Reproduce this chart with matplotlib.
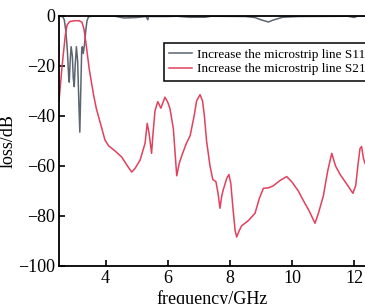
import matplotlib
matplotlib.use("Agg")
import matplotlib.pyplot as plt

# S21 of the widened microstrip line (frequency in GHz, loss in dB)
s21_freq = [2.50, 2.60, 2.70, 2.76, 2.85, 3.00, 3.15, 3.24, 3.30, 3.36, 3.41, 3.47, 3.55, 3.62,
            3.70, 3.80, 3.90, 3.98, 4.10, 4.30, 4.52, 4.70, 4.84, 4.95, 5.11, 5.27, 5.34, 5.40,
            5.48, 5.52, 5.59, 5.68, 5.78, 5.91, 6.00, 6.07, 6.18, 6.29, 6.37, 6.45, 6.60, 6.72,
            6.85, 6.93, 7.04, 7.12, 7.18, 7.25, 7.36, 7.45, 7.55, 7.62, 7.68, 7.74, 7.79, 7.90,
            7.97, 8.03, 8.10, 8.17, 8.22, 8.30, 8.38, 8.59, 8.81, 8.95, 9.08, 9.25, 9.40, 9.60,
            9.83, 10.00, 10.20, 10.37, 10.55, 10.74, 10.85, 11.01, 11.15, 11.28, 11.40, 11.55,
            11.80, 11.96, 12.05, 12.12, 12.19, 12.24, 12.30, 12.35]
s21_db = [-34, -20, -8, -3.6, -2.2, -1.9, -1.9, -2.5, -5, -10, -15, -21, -27, -32,
          -37, -41.5, -46, -49.7, -52, -54, -56.5, -60, -62.5, -61, -57.7, -51, -43, -47,
          -55, -48, -38, -34.3, -36.9, -32.5, -34.5, -37, -45, -64, -59, -56, -51, -48,
          -40, -34, -31.5, -34, -40, -50, -60, -65.5, -66.3, -71, -77, -72, -69.5, -65,
          -63.5, -67, -77, -86, -88.5, -86, -84, -82, -79, -73, -69, -68.8, -68, -66,
          -64.3, -66.5, -70, -74, -78, -83, -79, -72, -62, -55, -60, -63.5,
          -68, -71, -68, -60, -53, -52.3, -57, -59]

# S11 of the widened microstrip line
s11_freq = [2.50, 2.62, 2.67, 2.72, 2.77, 2.81, 2.83, 2.86, 2.89, 2.93, 2.96, 2.99, 3.02, 3.06,
            3.10, 3.14, 3.17, 3.20, 3.23, 3.25, 3.28, 3.32, 3.36, 3.40, 3.45, 3.60, 4.30, 4.60,
            5.00, 5.30, 5.36, 5.38, 6.00, 6.30, 6.70, 7.20, 7.40, 8.50, 8.80, 9.00, 9.24, 9.40,
            9.70, 10.20, 11.80, 12.00, 12.10, 12.35]
s11_db = [0, -0.3, -1.5, -6, -14, -24, -26.5, -18, -12.3, -16, -25, -28.3, -20, -12.3,
          -18, -35, -46.5, -30, -14, -12.3, -15, -11.5, -6, -2, -0.3, 0, -0.1, -0.8,
          -0.6, -0.2, -1.5, -0.2, -0.2, -0.1, -0.5, -0.5, -0.1, -0.2, -0.6, -1.5, -2.4, -1.6,
          -0.5, -0.2, -0.1, -0.6, -0.1, 0]

x_ticks = [4, 6, 8, 10, 12]
y_ticks = [0, -20, -40, -60, -80, -100]

plt.rcParams["font.family"] = ["Liberation Serif", "DejaVu Serif"]

fig = plt.figure(figsize=(3.65, 3.04), dpi=100)
ax = fig.add_axes([59 / 365, 1 - 265.7 / 304, 1 - 59 / 365, (265.7 - 16) / 304])

ax.plot(s11_freq, s11_db, color="#5c6570", lw=1.1, label="Increase the microstrip line S11")
ax.plot(s21_freq, s21_db, color="#e2405c", lw=1.1, label="Increase the microstrip line S21")

ax.set_xlim(2.5, 12.35)
ax.set_ylim(-100, 0)
ax.set_xticks(x_ticks)
ax.set_yticks(y_ticks)
ax.tick_params(direction="in", length=4, width=1.2, labelsize=13, pad=3)
for side in ("left", "bottom", "top"):
    ax.spines[side].set_linewidth(1.3)
ax.spines["right"].set_visible(False)

ax.set_xlabel("frequency/GHz", fontsize=13, labelpad=2)
ax.set_ylabel("loss/dB", fontsize=13, labelpad=1)

# legend box runs past the right edge like in the source figure
leg = ax.legend(loc="upper left", bbox_to_anchor=(164 / 365, 1 - 43 / 304),
                bbox_transform=fig.transFigure, borderaxespad=0, fontsize=9.5,
                handlelength=1.75, handletextpad=0.35, borderpad=0.4, labelspacing=0.2,
                fancybox=False, framealpha=1, edgecolor="black")
leg.get_frame().set_linewidth(1.1)

fig.savefig("out.png", dpi=100)
